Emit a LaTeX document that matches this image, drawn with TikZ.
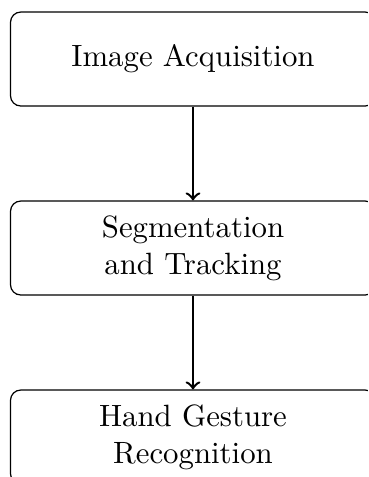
\documentclass[tikz,border=0pt]{standalone}
\begin{document}
\begin{tikzpicture}[x=0.3247pt,y=-0.3247pt,
  stagebox/.style={draw, rounded corners=3.3pt, minimum width=118.5pt, minimum height=30.5pt, align=center, inner sep=0pt, line width=0.4pt},
  flow/.style={thick,->}]
\useasboundingbox (0,0) rectangle (368,477);
\clip (0,0) rectangle (368,477);
\node[stagebox] (acq) at (193,59) {Image Acquisition};
\node[stagebox] (seg) at (193,248) {Segmentation\\and Tracking};
\node[stagebox] (rec) at (193,437) {Hand Gesture\\Recognition};
\draw[flow] (acq) -- (seg);
\draw[flow] (seg) -- (rec);
\end{tikzpicture}
\end{document}
